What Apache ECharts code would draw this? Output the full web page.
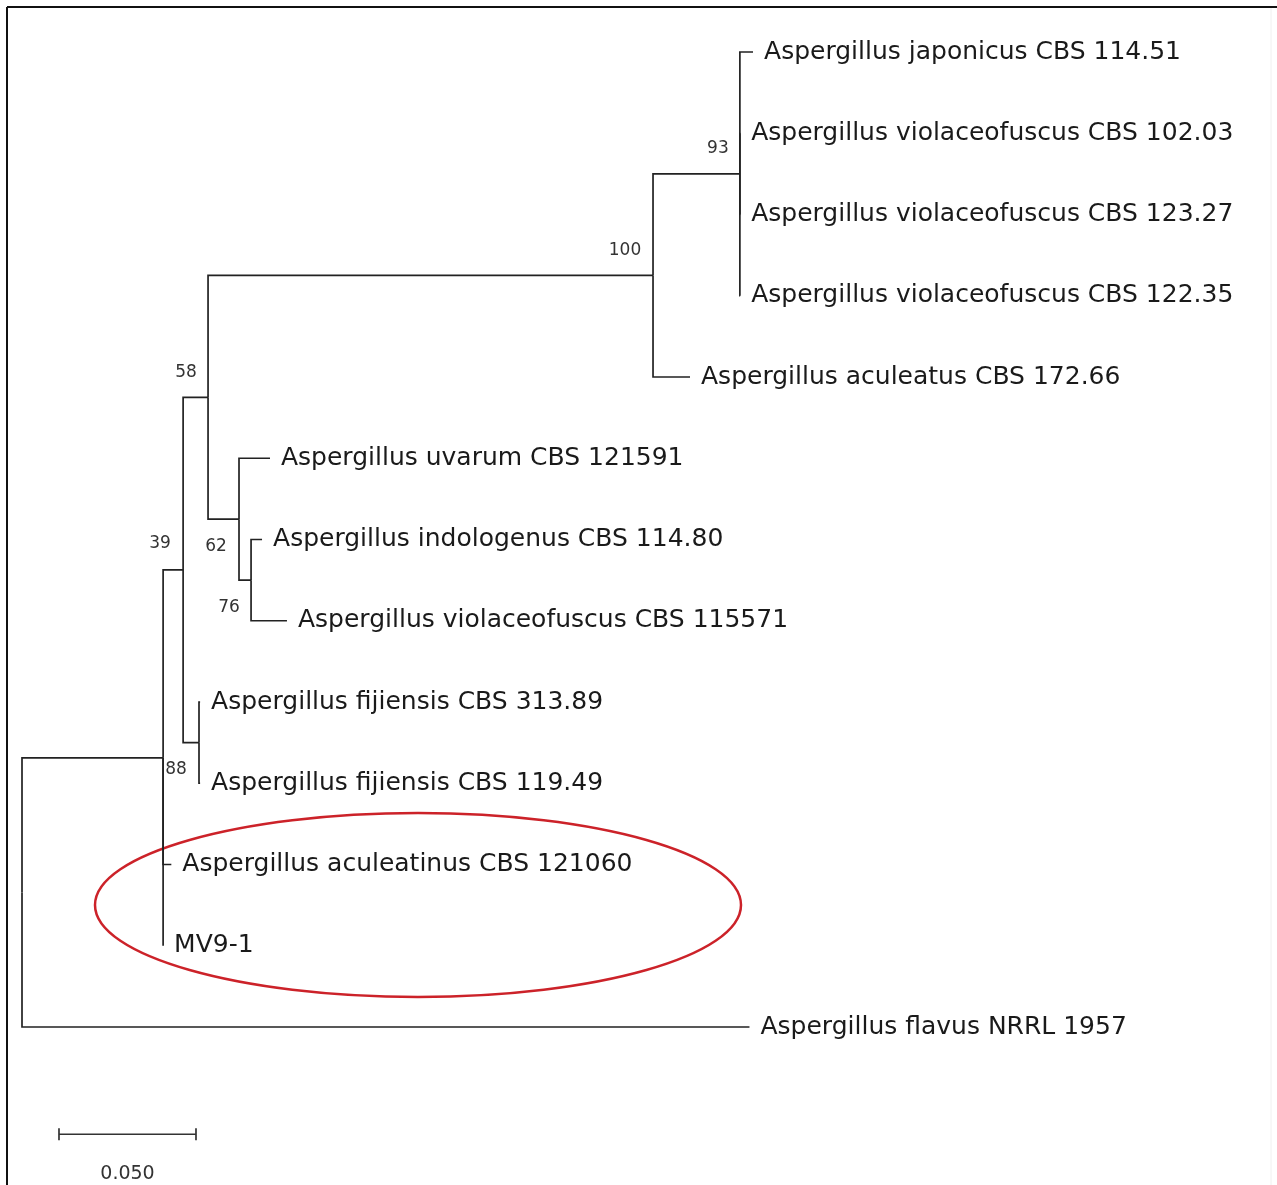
<!DOCTYPE html>
<html>
<head>
<meta charset="utf-8">
<script src="https://cdn.jsdelivr.net/npm/echarts@6/dist/echarts.min.js"></script>
<style>
html,body{margin:0;padding:0;background:#fff;}
#chart{width:1277px;height:1185px;}
</style>
</head>
<body>
<div id="chart"></div>
<script>
// ---- Tree data (distances from root, substitutions/site) ----
const nodeNames = [
  'root', 'Aspergillus flavus NRRL 1957', 'ingroup', 'n39', 'n58', 'n100', 'n93',
  'Aspergillus japonicus CBS 114.51', 'Aspergillus violaceofuscus CBS 102.03',
  'Aspergillus violaceofuscus CBS 123.27', 'Aspergillus violaceofuscus CBS 122.35',
  'Aspergillus aculeatus CBS 172.66', 'n62', 'Aspergillus uvarum CBS 121591', 'n76',
  'Aspergillus indologenus CBS 114.80', 'Aspergillus violaceofuscus CBS 115571', 'nFij',
  'Aspergillus fijiensis CBS 313.89', 'Aspergillus fijiensis CBS 119.49',
  'Aspergillus aculeatinus CBS 121060', 'MV9-1'
];
const nodeParent = [-1, 0, 0, 2, 3, 4, 5, 6, 6, 6, 6, 5, 4, 12, 12, 14, 14, 3, 17, 17, 2, 2];
const nodeDist   = [0, 0.2655, 0.0515, 0.0588, 0.0679, 0.2303, 0.2620,
  0.2668, 0.2621, 0.2621, 0.2621, 0.2438, 0.0792, 0.0905, 0.0836,
  0.0876, 0.0967, 0.0646, 0.0650, 0.0650, 0.0545, 0.0515];
// leaf order from top (index 0) to bottom (index 12); -1 = internal node
const leafOrder  = [-1, 12, -1, -1, -1, -1, -1, 0, 1, 2, 3, 4, -1, 5, -1, 6, 7, -1, 8, 9, 10, 11];
// bootstrap support values
const bootstrapNode  = [6, 5, 4, 3, 12, 14, 2];
const bootstrapValue = [93, 100, 58, 39, 62, 76, 88];
const scaleBarLength = 0.050;
const scaleBarLabel = '0.050';

// ---- style / placement (pixels) ----
const bootOffset = [[-22,-25],[-28,-25],[-22,-25],[-23,-26],[-23,27],[-22,27],[13,12]];
const leafLabelGap = 11;
const treeColor = '#222';

// ---- compute node y positions (rectangular cladogram) ----
const n = nodeNames.length;
const children = nodeNames.map(() => []);
nodeParent.forEach((p, i) => { if (p >= 0) children[p].push(i); });
const nodeY = new Array(n);
function computeY(i) {
  if (leafOrder[i] >= 0) { nodeY[i] = leafOrder[i]; return nodeY[i]; }
  const ys = children[i].map(computeY);
  nodeY[i] = (Math.min(...ys) + Math.max(...ys)) / 2;
  return nodeY[i];
}
computeY(0);

const edgeData = [];
for (let i = 0; i < n; i++) {
  if (nodeParent[i] < 0) continue;
  const p = nodeParent[i];
  edgeData.push({ value: [nodeDist[i], nodeY[i], nodeDist[p], nodeY[p]], node: i });
}
const bootData = bootstrapNode.map((k, j) => ({ value: [nodeDist[k], nodeY[k]], j: j }));

const chart = echarts.init(document.getElementById('chart'));
const FONT = '"DejaVu Sans", sans-serif';

chart.setOption({
  backgroundColor: '#fff',
  animation: false,
  grid: { left: 22, right: 22, top: 52, bottom: 158 },
  xAxis: { type: 'value', min: 0, max: 0.45, show: false },
  yAxis: { type: 'value', min: 0, max: 12, inverse: true, show: false },
  series: [
    {
      type: 'custom',
      clip: false,
      data: edgeData,
      renderItem: function (params, api) {
        const item = edgeData[params.dataIndex];
        const a = api.coord([api.value(2), api.value(3)]);
        const b = api.coord([api.value(2), api.value(1)]);
        const c = api.coord([api.value(0), api.value(1)]);
        const kids = [{
          type: 'polyline',
          shape: { points: [a, b, c] },
          style: { stroke: treeColor, lineWidth: 1.7, fill: null }
        }];
        const i = item.node;
        if (leafOrder[i] >= 0) {
          kids.push({
            type: 'text',
            style: {
              x: c[0] + leafLabelGap, y: c[1],
              text: nodeNames[i],
              font: '25px ' + FONT,
              fill: '#1a1a1a',
              textAlign: 'left', textVerticalAlign: 'middle'
            }
          });
        }
        return { type: 'group', children: kids };
      }
    },
    {
      type: 'custom',
      clip: false,
      data: bootData,
      renderItem: function (params, api) {
        const p = api.coord([api.value(0), api.value(1)]);
        const j = bootData[params.dataIndex].j;
        return {
          type: 'text',
          style: {
            x: p[0] + bootOffset[j][0], y: p[1] + bootOffset[j][1],
            text: String(bootstrapValue[j]),
            font: '17px "DejaVu Sans", sans-serif',
            fill: '#333',
            textAlign: 'center', textVerticalAlign: 'middle'
          }
        };
      }
    },
    {
      type: 'custom',
      clip: false,
      data: [[0.0135, 13.32]],
      renderItem: function (params, api) {
        const a = api.coord([api.value(0), api.value(1)]);
        const b = api.coord([api.value(0) + scaleBarLength, api.value(1)]);
        return {
          type: 'group',
          children: [
            { type: 'line', shape: { x1: a[0], y1: a[1], x2: b[0], y2: b[1] }, style: { stroke: '#333', lineWidth: 1.7 } },
            { type: 'line', shape: { x1: a[0], y1: a[1] - 6, x2: a[0], y2: a[1] + 6 }, style: { stroke: '#333', lineWidth: 1.7 } },
            { type: 'line', shape: { x1: b[0], y1: b[1] - 6, x2: b[0], y2: b[1] + 6 }, style: { stroke: '#333', lineWidth: 1.7 } },
            { type: 'text', style: { x: (a[0] + b[0]) / 2, y: a[1] + 40, text: scaleBarLabel,
              font: '19px "DejaVu Sans", sans-serif', fill: '#333', textAlign: 'center', textVerticalAlign: 'middle' } }
          ]
        };
      }
    }
  ],
  graphic: [
    { type: 'line', shape: { x1: 7, y1: 7, x2: 1277, y2: 7 }, style: { stroke: '#111', lineWidth: 2 } },
    { type: 'line', shape: { x1: 7, y1: 7, x2: 7, y2: 1185 }, style: { stroke: '#111', lineWidth: 2 } },
    { type: 'line', shape: { x1: 1271, y1: 8, x2: 1271, y2: 1185 }, style: { stroke: '#f0f0f0', lineWidth: 1 } },
    { type: 'ellipse', shape: { cx: 418, cy: 905, rx: 323, ry: 92 }, style: { stroke: '#cc2229', lineWidth: 2.5, fill: null } }
  ]
});
</script>
</body>
</html>
